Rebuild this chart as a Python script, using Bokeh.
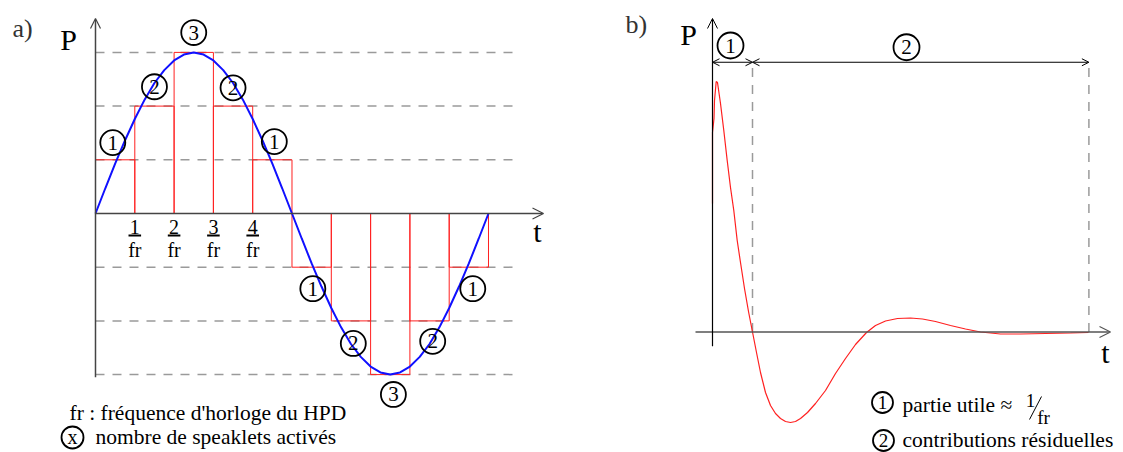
from bokeh.plotting import figure
from bokeh.layouts import row
from bokeh.models import Range1d, Arrow, OpenHead
from bokeh.embed import file_html
from bokeh.resources import INLINE
from bokeh.core.properties import value

FONT = "'Liberation Serif', 'Times New Roman', serif"

# ---------------- panel a) data ----------------
step_starts = [0, 1, 2, 3, 4, 5, 6, 7, 8, 9]
step_levels = [1, 2, 3, 2, 1, -1, -2, -3, -2, -1]
level_lines = [3, 2, 1, -1, -2, -3]
sine_t = [0, 0.25, 0.5, 0.75, 1, 1.25, 1.5, 1.75, 2, 2.25, 2.5, 2.75, 3, 3.25, 3.5,
          3.75, 4, 4.25, 4.5, 4.75, 5, 5.25, 5.5, 5.75, 6, 6.25, 6.5, 6.75, 7, 7.25,
          7.5, 7.75, 8, 8.25, 8.5, 8.75, 9, 9.25, 9.5, 9.75, 10]
sine_p = [0, 0.47, 0.93, 1.36, 1.76, 2.12, 2.43, 2.67, 2.85, 2.96, 3.0, 2.96, 2.85,
          2.67, 2.43, 2.12, 1.76, 1.36, 0.93, 0.47, 0, -0.47, -0.93, -1.36, -1.76,
          -2.12, -2.43, -2.67, -2.85, -2.96, -3.0, -2.96, -2.85, -2.67, -2.43, -2.12,
          -1.76, -1.36, -0.93, -0.47, 0]
tick_t = [1, 2, 3, 4]
tick_num = ["1", "2", "3", "4"]
tick_den = ["fr", "fr", "fr", "fr"]
count_labels = ["1", "2", "3", "2", "1", "1", "2", "3", "2", "1"]
count_t = [0.44, 1.5, 2.5, 3.5, 4.55, 5.53, 6.56, 7.58, 8.58, 9.6]
count_p = [1.32, 2.36, 3.37, 2.34, 1.34, -1.4, -2.42, -3.37, -2.38, -1.4]

# ---------------- panel b) data ----------------
resp_t = [0, 0, 0.0375, 0.05, 0.0925, 0.125, 0.2, 0.2825, 0.3675, 0.45, 0.5325,
          0.6175, 0.7, 0.8, 0.9, 1.0, 1.1, 1.2, 1.325, 1.45, 1.575, 1.7, 1.825, 1.95,
          2.075, 2.2, 2.375, 2.575, 2.825, 3.075, 3.325, 3.575, 3.85, 4.075, 4.325,
          4.625, 4.95, 5.25, 5.575, 5.95, 6.325, 6.7, 7.2, 7.7, 8.325, 8.95, 9.4]
resp_p = [0.514, 0.798, 0.854, 0.926, 1.002, 0.998, 0.914, 0.806, 0.686, 0.578,
          0.486, 0.366, 0.278, 0.174, 0.082, 0, -0.082, -0.162, -0.242, -0.294,
          -0.326, -0.346, -0.358, -0.362, -0.358, -0.346, -0.322, -0.286, -0.234,
          -0.166, -0.106, -0.05, -0.002, 0.026, 0.044, 0.054, 0.056, 0.052, 0.042,
          0.026, 0.012, 0, -0.008, -0.008, -0.006, -0.004, -0.002]
zone_bounds = [0, 1.0, 9.41]
zone_labels = ["1", "2"]
legend_b = ["partie utile \u2248", "contributions  r\u00e9siduelles"]


def make_fig(w, xr, yr):
    p = figure(width=w, height=452, x_range=Range1d(*xr), y_range=Range1d(*yr),
               output_backend="svg", toolbar_location=None, min_border=0,
               x_axis_location=None, y_axis_location=None, outline_line_color=None,
               background_fill_color="white", border_fill_color="white")
    p.grid.visible = False
    return p


def txt(p, x, y, t, size, align="center", color="black"):
    p.text(x=x, y=y, text=t, text_font=value(FONT), text_font_size=value(size),
           text_align=align, text_baseline="middle", text_color=color)


def circled(p, x, y, labels, size, fsize):
    p.scatter(x=x, y=y, marker="circle", size=size, fill_color=None,
              line_color="black", line_width=1.8)
    txt(p, x, y, labels, fsize)


# ================= panel a =================
pa = make_fig(600, (-2.4173, 12.850), (-4.4507, 3.9665))

pa.segment(x0=[0] * len(level_lines), x1=[10.76] * len(level_lines),
           y0=level_lines, y1=level_lines, line_color="#9a9a9a",
           line_width=1.5, line_dash="9 8")

bottoms = [min(0, l) for l in step_levels]
tops = [max(0, l) for l in step_levels]
rights = [s + 1 for s in step_starts]
pa.quad(left=step_starts, right=rights, bottom=bottoms, top=tops,
        fill_color=None, line_color="#ff2020", line_width=1)

pa.add_layout(Arrow(end=OpenHead(size=10, line_color="#444444", line_width=1.2),
                    x_start=0, y_start=-3.05, x_end=0, y_end=3.63,
                    line_color="#444444", line_width=1.5))
pa.add_layout(Arrow(end=OpenHead(size=11, line_color="#444444", line_width=1.2),
                    x_start=0, y_start=0, x_end=11.4, y_end=0,
                    line_color="#444444", line_width=1.5))

pa.line(sine_t, sine_p, line_color="#1010ff", line_width=2)

circled(pa, count_t, count_p, count_labels, 25, "21px")

txt(pa, tick_t, [-0.25] * 4, tick_num, "20px")
pa.segment(x0=[t - 0.16 for t in tick_t], x1=[t + 0.16 for t in tick_t],
           y0=[-0.41] * 4, y1=[-0.41] * 4, line_color="black", line_width=2)
txt(pa, tick_t, [-0.68] * 4, tick_den, "20px")

txt(pa, [-2.112], [3.445], ["a)"], "26px", align="left", color="#333333")
txt(pa, [-0.687], [3.24], ["P"], "30px")
txt(pa, [11.247], [-0.335], ["t"], "30px")

txt(pa, [-0.662], [-3.724], ["fr : fr\u00e9quence d'horloge du HPD"], "21.5px", align="left")
circled(pa, [-0.585], [-4.171], ["x"], 22, "20px")
txt(pa, [0.0], [-4.171], ["nombre de speaklets activ\u00e9s"], "21.5px", align="left")

# ================= panel b =================
pb = make_fig(523, (-2.8, 10.275), (-0.482, 1.326))

pb.segment(x0=zone_bounds[1:], x1=zone_bounds[1:], y0=[0, 0], y1=[1.074, 1.074],
           line_color="#9a9a9a", line_width=1.5, line_dash="9 8")

pb.add_layout(Arrow(end=OpenHead(size=11, line_color="#555555", line_width=1.2),
                    x_start=-0.425, y_start=0, x_end=9.95, y_end=0,
                    line_color="#555555", line_width=1.5))
pb.add_layout(Arrow(end=OpenHead(size=10, line_color="black", line_width=1),
                    x_start=0, y_start=-0.057, x_end=0, y_end=1.254,
                    line_color="black", line_width=1.2))

for a, b in zip(zone_bounds[:-1], zone_bounds[1:]):
    pb.add_layout(Arrow(start=OpenHead(size=7, line_color="black", line_width=1),
                        end=OpenHead(size=7, line_color="black", line_width=1),
                        x_start=a, y_start=1.079, x_end=b, y_end=1.079,
                        line_color="black", line_width=1))
circled(pb, [0.45, 4.85], [1.146, 1.139], zone_labels, 26, "21px")

pb.line(resp_t, resp_p, line_color="#ff2020", line_width=1.2)

txt(pb, [-2.175], [1.23], ["b)"], "26px", align="left", color="#333333")
txt(pb, [-0.6], [1.19], ["P"], "30px")
txt(pb, [9.825], [-0.082], ["t"], "30px")

circled(pb, [4.25, 4.275], [-0.282, -0.434], ["1", "2"], 21, "19px")
txt(pb, [4.75, 4.75], [-0.29, -0.43], legend_b, "21.5px", align="left")
txt(pb, [7.95], [-0.274], ["1"], "19px")
pb.segment(x0=[7.925], y0=[-0.35], x1=[8.225], y1=[-0.258], line_color="black", line_width=1)
txt(pb, [8.275], [-0.342], ["fr"], "19px")

layout = row(pa, pb)
open("out.html", "w").write(file_html(layout, INLINE))
